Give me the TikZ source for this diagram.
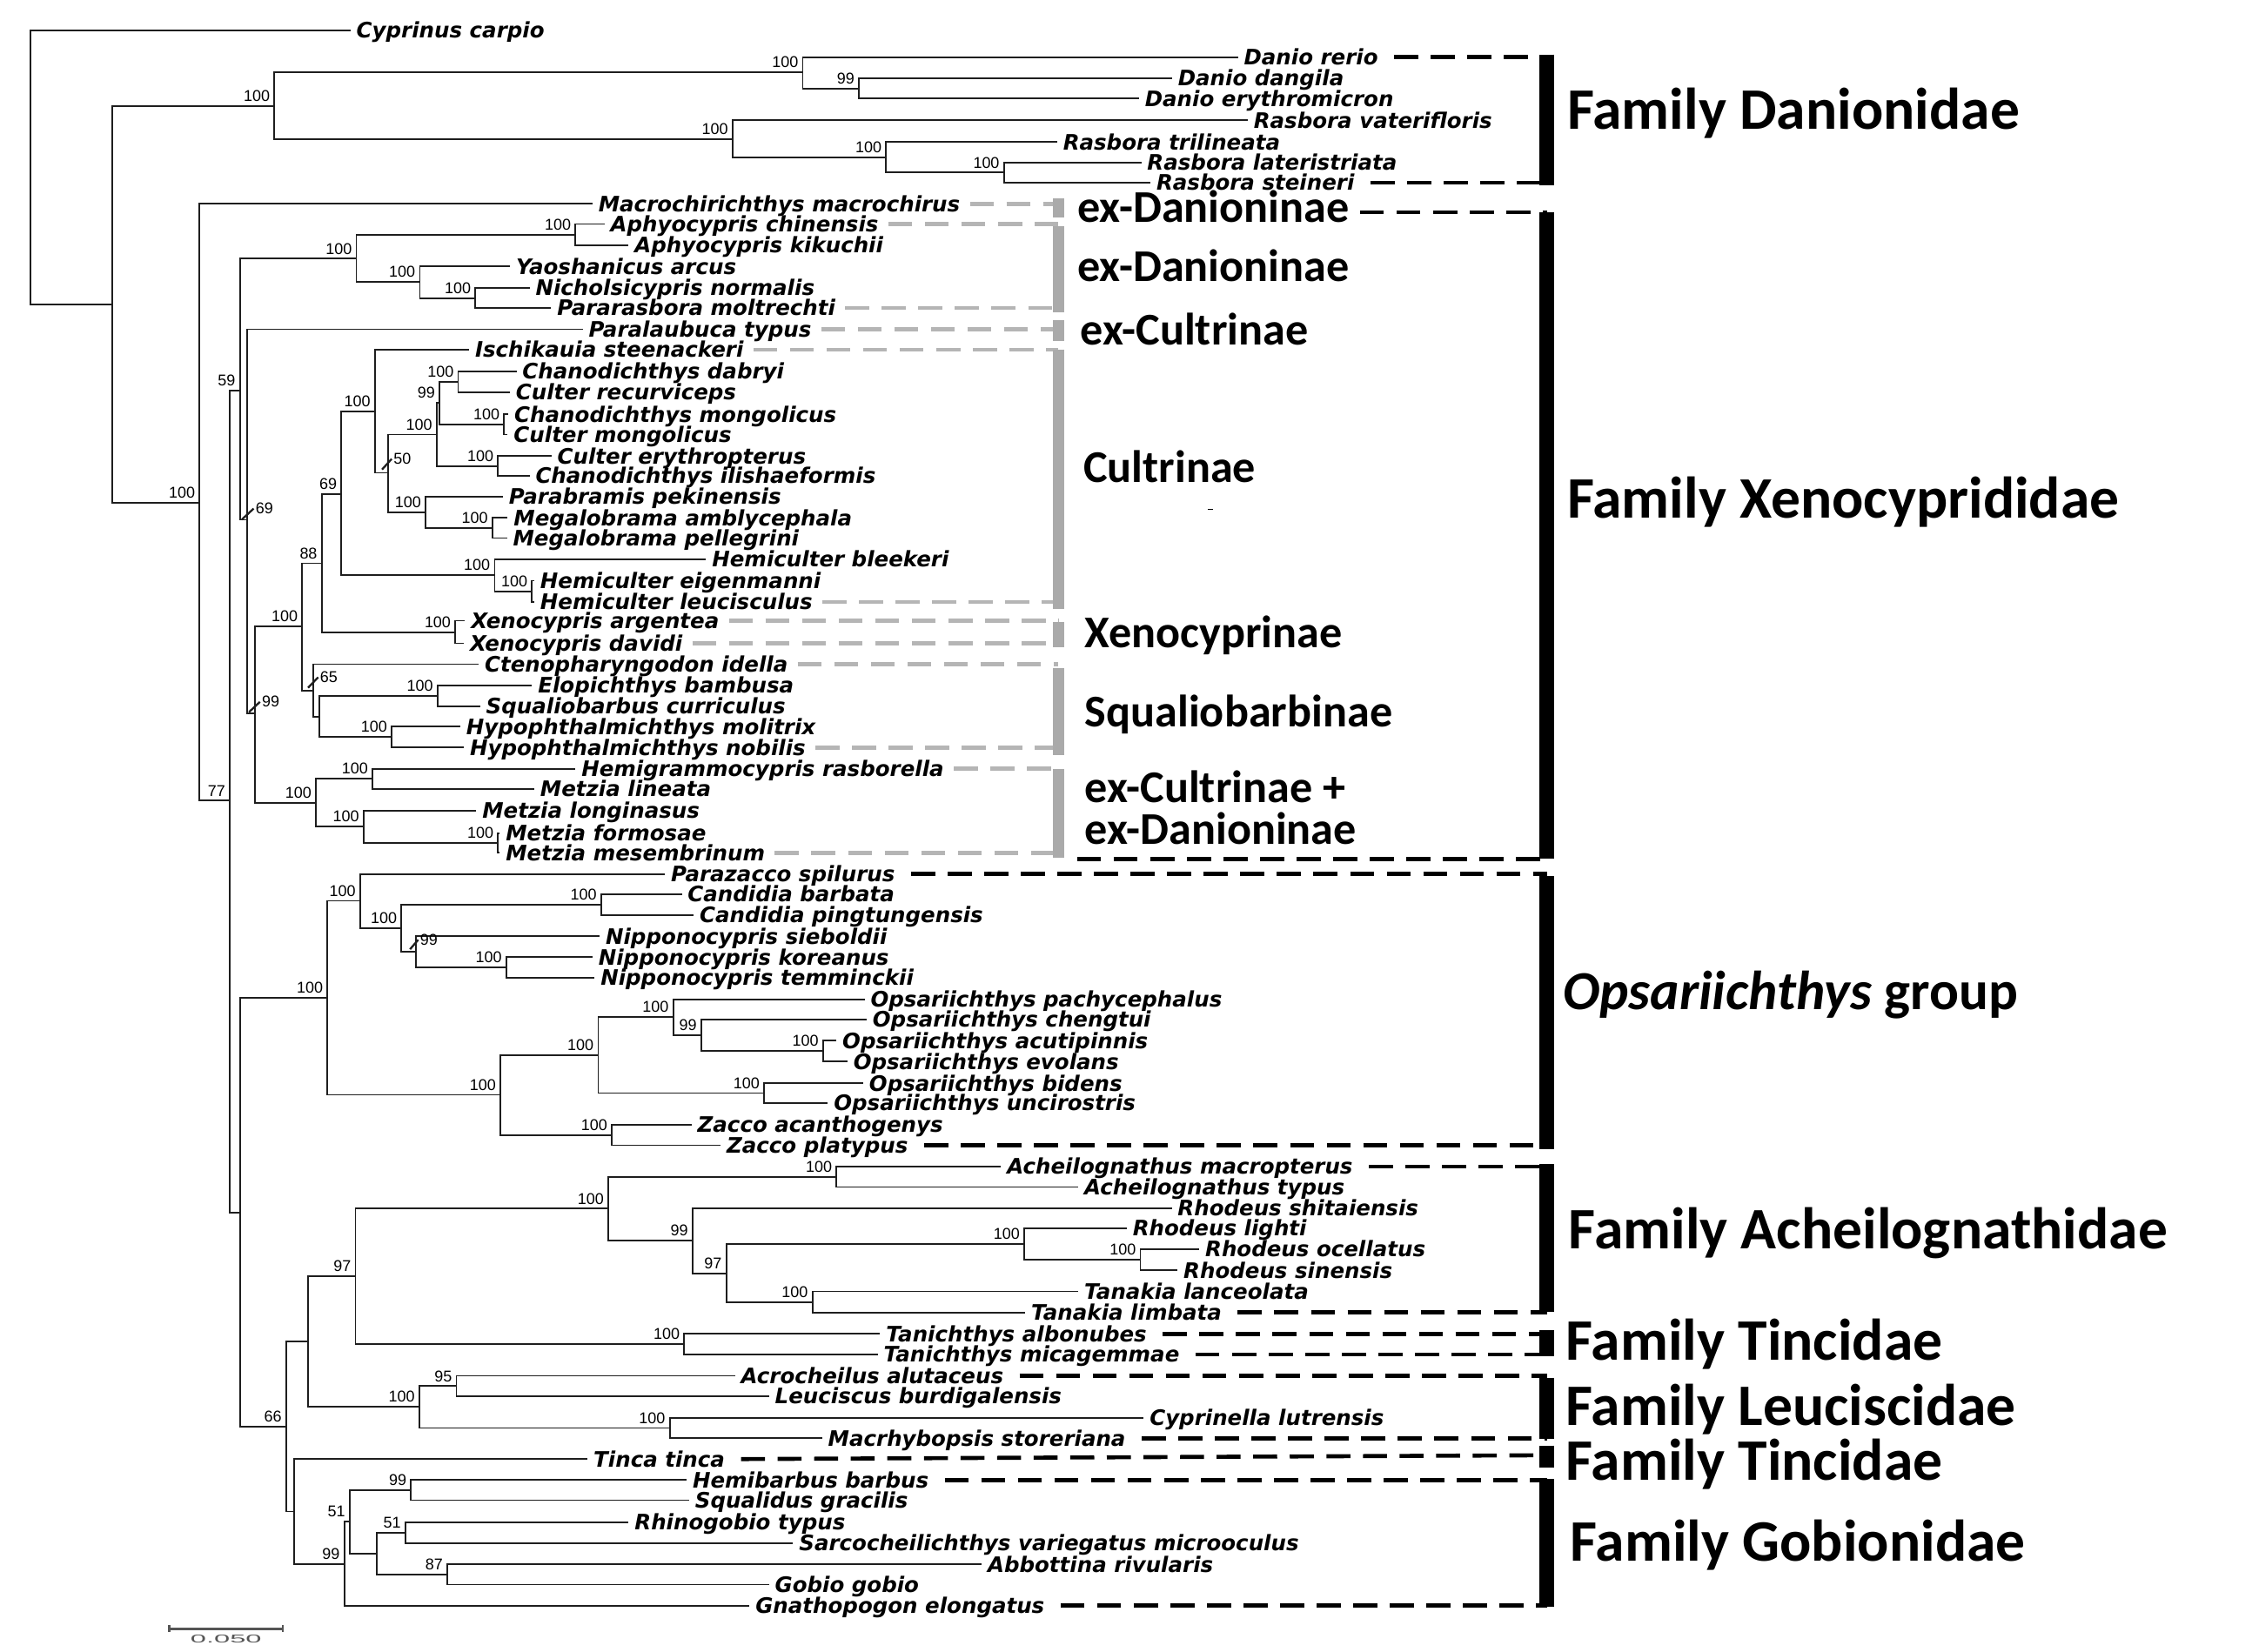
\documentclass[tikz,border=0pt]{standalone}
\usepackage{fontspec}
\usepackage{xcolor}
\usepackage{tikz}
\newfontfamily\spfam{DejaVu Sans}
\newfontfamily\bsfam{Liberation Sans}
\newfontfamily\grpfam{Carlito}
\definecolor{GBar}{HTML}{AAAAAA}
\definecolor{GDash}{HTML}{B5B5B5}
\definecolor{Ink}{HTML}{1E1E1E}
\definecolor{ScaleGray}{HTML}{555555}

\begin{document}
\begin{tikzpicture}[x=0.02cm,y=-0.02cm,
sp/.style={font=\spfam\bfseries\itshape\fontsize{8.45}{10}\selectfont,anchor=west,inner xsep=2.2pt,inner ysep=0pt,text height=6.1pt,text depth=0pt},
bs/.style={font=\bsfam\fontsize{6.2}{7}\selectfont,anchor=south east,inner sep=0pt,xshift=-1.6pt,yshift=1.6pt},
bsl/.style={font=\bsfam\fontsize{6.2}{7}\selectfont,anchor=west,inner sep=0.4pt},
br/.style={draw=Ink,line width=0.65pt},
slash/.style={draw=Ink,line width=0.8pt},
sub/.style={font=\grpfam\bfseries\fontsize{18}{20}\selectfont,anchor=base west,inner sep=0pt},
fam/.style={font=\grpfam\bfseries\fontsize{23.3}{26}\selectfont,anchor=base west,inner sep=0pt},
gdash/.style={draw=GDash,line width=1.6pt,dash pattern=on 9.5pt off 5pt,shorten <=1.5pt},
fdash/.style={draw=black,line width=1.6pt,dash pattern=on 9.5pt off 5pt,shorten <=4pt},
gbar/.style={draw=GBar,line width=4.5pt},
fbar/.style={draw=black,line width=5.7pt}]
\useasboundingbox (0,0) rectangle (1568,1150);
% internal nodes with support values
\coordinate (r) at (21,116.4);
\coordinate (n78) at (78,211.8);
\path (191,73.7) coordinate (nDan) node[bs] (bDan) {100};
\path (558.9,50.5) coordinate (nDr) node[bs] (bDr) {100};
\path (598,61.6) coordinate (nDd) node[bs] (bDd) {99};
\path (510,96.7) coordinate (nRa) node[bs] (bRa) {100};
\path (617,109.5) coordinate (nRt) node[bs] (bRt) {100};
\path (699,120.2) coordinate (nRl) node[bs] (bRl) {100};
\path (139,350) coordinate (nX) node[bs] (bX) {100};
\path (160,557.6) coordinate (n77) node[bs] (b77) {77};
\path (167,272) coordinate (n59) node[bs] (b59) {59};
\path (248.1,180.2) coordinate (nAph) node[bs] (bAph) {100};
\path (400.7,163.4) coordinate (nAp2) node[bs] (bAp2) {100};
\path (292.3,196.3) coordinate (nYao) node[bs] (bYao) {100};
\path (331,207.6) coordinate (nNic) node[bs] (bNic) {100};
\coordinate (n69) at (172,362);
\coordinate (n99) at (177.4,497);
\path (210.4,436.3) coordinate (nCX) node[bs] (bCX) {100};
\path (224,392.3) coordinate (n88) node[bs] (b88) {88};
\path (237.7,344) coordinate (nCu) node[bs] (bCu) {69};
\path (261,286.5) coordinate (nIsc) node[bs] (bIsc) {100};
\coordinate (n50) at (270,329.3);
\path (304,302.6) coordinate (nChC) node[bs] (bChC) {100};
\path (306,280.7) coordinate (nCh9) node[bs] (bCh9) {99};
\path (319,266) coordinate (nChA) node[bs] (bChA) {100};
\path (351,295.5) coordinate (nChB) node[bs] (bChB) {100};
\path (346.8,324.5) coordinate (nChE) node[bs] (bChE) {100};
\path (296.3,356.8) coordinate (nPar) node[bs] (bPar) {100};
\path (342.8,367.7) coordinate (nMeg) node[bs] (bMeg) {100};
\path (344.4,400.6) coordinate (nHem) node[bs] (bHem) {100};
\path (370.4,411.8) coordinate (nHe2) node[bs] (bHe2) {100};
\path (317,440.2) coordinate (nXen) node[bs] (bXen) {100};
\coordinate (n65) at (218.2,480.8);
\coordinate (nSq) at (222.2,499);
\path (304.7,484.5) coordinate (nElo) node[bs] (bElo) {100};
\path (272.7,513.3) coordinate (nHyp) node[bs] (bHyp) {100};
\path (220,559) coordinate (nMet) node[bs] (bMet) {100};
\path (259.3,542.4) coordinate (nHgm) node[bs] (bHgm) {100};
\path (253.2,575.5) coordinate (nMz) node[bs] (bMz) {100};
\path (346.8,587) coordinate (nMz2) node[bs] (bMz2) {100};
\coordinate (nB) at (167.3,844.4);
\path (228,695) coordinate (nOps) node[bs] (bOps) {100};
\path (250.8,627.4) coordinate (nPz) node[bs] (bPz) {100};
\path (279.5,646.5) coordinate (nCN) node[bs] (bCN) {100};
\path (418.5,630.1) coordinate (nCan) node[bs] (bCan) {100};
\coordinate (nNip) at (289.6,662.7);
\path (352.5,673.7) coordinate (nNi2) node[bs] (bNi2) {100};
\path (348.5,762.5) coordinate (nOp) node[bs] (bOp) {100};
\path (416.5,734.8) coordinate (nO1) node[bs] (bO1) {100};
\path (468.7,708.4) coordinate (nO2) node[bs] (bO2) {100};
\path (488.2,721) coordinate (nO3) node[bs] (bO3) {99};
\path (573,732) coordinate (nAcu) node[bs] (bAcu) {100};
\path (532,761.3) coordinate (nBid) node[bs] (bBid) {100};
\path (426,790.4) coordinate (nZac) node[bs] (bZac) {100};
\path (199.3,993.5) coordinate (n66) node[bs] (b66) {66};
\coordinate (nL) at (214.5,934.2);
\path (247.5,888.9) coordinate (n97) node[bs] (b97) {97};
\path (423.6,841.8) coordinate (nAch) node[bs] (bAch) {100};
\path (582.4,819.6) coordinate (nAc2) node[bs] (bAc2) {100};
\path (482.2,864) coordinate (nRs) node[bs] (bRs) {99};
\path (505.7,886.9) coordinate (nR97) node[bs] (bR97) {97};
\path (713.1,866.4) coordinate (nRh) node[bs] (bRh) {100};
\path (794,877.5) coordinate (nRh2) node[bs] (bRh2) {100};
\path (565.7,906.8) coordinate (nTk) node[bs] (bTk) {100};
\path (476.4,936.1) coordinate (nTan) node[bs] (bTan) {100};
\path (291.9,979.6) coordinate (nLeu) node[bs] (bLeu) {100};
\path (317.8,965.4) coordinate (n95) node[bs] (b95) {95};
\path (466.3,994.5) coordinate (nCyp) node[bs] (bCyp) {100};
\coordinate (nT) at (204.7,1052.7);
\path (239.7,1089.3) coordinate (nGob) node[bs] (bGob) {99};
\path (243.4,1059.8) coordinate (n51) node[bs] (b51) {51};
\path (286.2,1037.8) coordinate (nHb) node[bs] (bHb) {99};
\coordinate (nRg) at (262.6,1081.9);
\path (282.2,1067.4) coordinate (n51b) node[bs] (b51b) {51};
\path (311.4,1096.6) coordinate (n87) node[bs] (b87) {87};
% leaves
\node[sp] (lCyp) at (244,21) {Cyprinus carpio};
\node[sp] (lDre) at (861.9,39.8) {Danio rerio};
\node[sp] (lDda) at (816,54.5) {Danio dangila};
\node[sp] (lDer) at (793,68.7) {Danio erythromicron};
\node[sp] (lRva) at (868.7,83.8) {Rasbora vaterifloris};
\node[sp] (lRtr) at (736,99) {Rasbora trilineata};
\node[sp] (lRla) at (794.6,113.1) {Rasbora lateristriata};
\node[sp] (lRst) at (801,127.3) {Rasbora steineri};
\node[sp] (lMac) at (412.5,142) {Macrochirichthys macrochirus};
\node[sp] (lAch) at (420.9,156) {Aphyocypris chinensis};
\node[sp] (lAki) at (437.7,170.7) {Aphyocypris kikuchii};
\node[sp] (lYar) at (355.2,185.5) {Yaoshanicus arcus};
\node[sp] (lNno) at (368.7,200.6) {Nicholsicypris normalis};
\node[sp] (lPmo) at (383.8,214.5) {Pararasbora moltrechti};
\node[sp] (lPty) at (405.7,229.3) {Paralaubuca typus};
\node[sp] (lIst) at (326.6,243.6) {Ischikauia steenackeri};
\node[sp] (lCda) at (359.6,258.6) {Chanodichthys dabryi};
\node[sp] (lCre) at (355,273.3) {Culter recurviceps};
\node[sp] (lCmo) at (354,288.5) {Chanodichthys mongolicus};
\node[sp] (lCum) at (353.5,302.6) {Culter mongolicus};
\node[sp] (lCer) at (383.9,317.6) {Culter erythropterus};
\node[sp] (lCil) at (368.7,331.3) {Chanodichthys ilishaeformis};
\node[sp] (lPpe) at (350.2,345.9) {Parabramis pekinensis};
\node[sp] (lMam) at (353.5,360.6) {Megalobrama amblycephala};
\node[sp] (lMpe) at (353,374.7) {Megalobrama pellegrini};
\node[sp] (lHbl) at (491.6,389.5) {Hemiculter bleekeri};
\node[sp] (lHei) at (372,404.4) {Hemiculter eigenmanni};
\node[sp] (lHle) at (372,419.2) {Hemiculter leucisculus};
\node[sp] (lXar) at (323.8,432.3) {Xenocypris argentea};
\node[sp] (lXda) at (323,448) {Xenocypris davidi};
\node[sp] (lCid) at (333.3,462.6) {Ctenopharyngodon idella};
\node[sp] (lEba) at (370.4,477.2) {Elopichthys bambusa};
\node[sp] (lScu) at (334.3,491.9) {Squaliobarbus curriculus};
\node[sp] (lHmo) at (320.5,506) {Hypophthalmichthys molitrix};
\node[sp] (lHno) at (323,520.6) {Hypophthalmichthys nobilis};
\node[sp] (lHra) at (400.7,535.4) {Hemigrammocypris rasborella};
\node[sp] (lMli) at (372,549.5) {Metzia lineata};
\node[sp] (lMlo) at (331.6,564.6) {Metzia longinasus};
\node[sp] (lMfo) at (348,580.2) {Metzia formosae};
\node[sp] (lMme) at (348,593.9) {Metzia mesembrinum};
\node[sp] (lPsp) at (463,608.7) {Parazacco spilurus};
\node[sp] (lCba) at (474.7,622.8) {Candidia barbata};
\node[sp] (lCpi) at (483,637.4) {Candidia pingtungensis};
\node[sp] (lNsi) at (417.5,652.1) {Nipponocypris sieboldii};
\node[sp] (lNko) at (412.5,666.7) {Nipponocypris koreanus};
\node[sp] (lNte) at (414,680.8) {Nipponocypris temminckii};
\node[sp] (lOpa) at (602,696) {Opsariichthys pachycephalus};
\node[sp] (lOch) at (603.4,710.1) {Opsariichthys chengtui};
\node[sp] (lOac) at (582.4,724.8) {Opsariichthys acutipinnis};
\node[sp] (lOev) at (590,739.4) {Opsariichthys evolans};
\node[sp] (lObi) at (601,754.5) {Opsariichthys bidens};
\node[sp] (lOun) at (576.4,768.1) {Opsariichthys uncirostris};
\node[sp] (lZac) at (481.5,783.2) {Zacco acanthogenys};
\node[sp] (lZpl) at (501.7,797.6) {Zacco platypus};
\node[sp] (lAma) at (697,812.5) {Acheilognathus macropterus};
\node[sp] (lAty) at (750.8,826.7) {Acheilognathus typus};
\node[sp] (lRsh) at (815.8,841.4) {Rhodeus shitaiensis};
\node[sp] (lRli) at (784.5,855.5) {Rhodeus lighti};
\node[sp] (lRoc) at (835,870.1) {Rhodeus ocellatus};
\node[sp] (lRsi) at (819.9,884.8) {Rhodeus sinensis};
\node[sp] (lTla) at (750.8,899.4) {Tanakia lanceolata};
\node[sp] (lTli) at (713.8,914.1) {Tanakia limbata};
\node[sp] (lTal) at (612.8,928.9) {Tanichthys albonubes};
\node[sp] (lTmi) at (611.1,943.4) {Tanichthys micagemmae};
\node[sp] (lAal) at (511.8,958.2) {Acrocheilus alutaceus};
\node[sp] (lLbu) at (535.4,972.5) {Leuciscus burdigalensis};
\node[sp] (lClu) at (796.3,987.3) {Cyprinella lutrensis};
\node[sp] (lMst) at (572.4,1001.6) {Macrhybopsis storeriana};
\node[sp] (lTti) at (409.1,1016.2) {Tinca tinca};
\node[sp] (lHba) at (478.1,1030.7) {Hemibarbus barbus};
\node[sp] (lSgr) at (479.8,1044.8) {Squalidus gracilis};
\node[sp] (lRty) at (437.7,1060) {Rhinogobio typus};
\node[sp] (lSvm) at (552.2,1074.7) {Sarcocheilichthys variegatus microoculus};
\node[sp] (lAri) at (683.5,1089.5) {Abbottina rivularis};
\node[sp] (lGgo) at (535.4,1103.6) {Gobio gobio};
\node[sp] (lGel) at (521.9,1118.2) {Gnathopogon elongatus};
% branches
\draw[br] (r) |- (lCyp.west) (r) |- (n78);
\draw[br] (n78) |- (nDan) (n78) |- (nX);
\draw[br] (nDan) |- (nDr) (nDan) |- (nRa);
\draw[br] (nDr) |- (lDre.west) (nDr) |- (nDd);
\draw[br] (nDd) |- (lDda.west) (nDd) |- (lDer.west);
\draw[br] (nRa) |- (lRva.west) (nRa) |- (nRt);
\draw[br] (nRt) |- (lRtr.west) (nRt) |- (nRl);
\draw[br] (nRl) |- (lRla.west) (nRl) |- (lRst.west);
\draw[br] (nX) |- (lMac.west) (nX) |- (n77);
\draw[br] (n77) |- (n59) (n77) |- (nB);
\draw[br] (n59) |- (nAph) (n59) |- (n69);
\draw[br] (nAph) |- (nAp2) (nAph) |- (nYao);
\draw[br] (nAp2) |- (lAch.west) (nAp2) |- (lAki.west);
\draw[br] (nYao) |- (lYar.west) (nYao) |- (nNic);
\draw[br] (nNic) |- (lNno.west) (nNic) |- (lPmo.west);
\draw[br] (n69) |- (lPty.west) (n69) |- (n99);
\draw[br] (n99) |- (nCX) (n99) |- (nMet);
\draw[br] (nCX) |- (n88) (nCX) |- (n65);
\draw[br] (n88) |- (nCu) (n88) |- (nXen);
\draw[br] (nCu) |- (nIsc) (nCu) |- (nHem);
\draw[br] (nIsc) |- (lIst.west) (nIsc) |- (n50);
\draw[br] (n50) |- (nChC) (n50) |- (nPar);
\draw[br] (nChC) |- (nCh9) (nChC) |- (nChE);
\draw[br] (nCh9) |- (nChA) (nCh9) |- (nChB);
\draw[br] (nChA) |- (lCda.west) (nChA) |- (lCre.west);
\draw[br] (nChB) |- (lCmo.west) (nChB) |- (lCum.west);
\draw[br] (nChE) |- (lCer.west) (nChE) |- (lCil.west);
\draw[br] (nPar) |- (lPpe.west) (nPar) |- (nMeg);
\draw[br] (nMeg) |- (lMam.west) (nMeg) |- (lMpe.west);
\draw[br] (nHem) |- (lHbl.west) (nHem) |- (nHe2);
\draw[br] (nHe2) |- (lHei.west) (nHe2) |- (lHle.west);
\draw[br] (nXen) |- (lXar.west) (nXen) |- (lXda.west);
\draw[br] (n65) |- (lCid.west) (n65) |- (nSq);
\draw[br] (nSq) |- (nElo) (nSq) |- (nHyp);
\draw[br] (nElo) |- (lEba.west) (nElo) |- (lScu.west);
\draw[br] (nHyp) |- (lHmo.west) (nHyp) |- (lHno.west);
\draw[br] (nMet) |- (nHgm) (nMet) |- (nMz);
\draw[br] (nHgm) |- (lHra.west) (nHgm) |- (lMli.west);
\draw[br] (nMz) |- (lMlo.west) (nMz) |- (nMz2);
\draw[br] (nMz2) |- (lMfo.west) (nMz2) |- (lMme.west);
\draw[br] (nB) |- (nOps) (nB) |- (n66);
\draw[br] (nOps) |- (nPz) (nOps) |- (nOp);
\draw[br] (nPz) |- (lPsp.west) (nPz) |- (nCN);
\draw[br] (nCN) |- (nCan) (nCN) |- (nNip);
\draw[br] (nCan) |- (lCba.west) (nCan) |- (lCpi.west);
\draw[br] (nNip) |- (lNsi.west) (nNip) |- (nNi2);
\draw[br] (nNi2) |- (lNko.west) (nNi2) |- (lNte.west);
\draw[br] (nOp) |- (nO1) (nOp) |- (nZac);
\draw[br] (nO1) |- (nO2) (nO1) |- (nBid);
\draw[br] (nO2) |- (lOpa.west) (nO2) |- (nO3);
\draw[br] (nO3) |- (lOch.west) (nO3) |- (nAcu);
\draw[br] (nAcu) |- (lOac.west) (nAcu) |- (lOev.west);
\draw[br] (nBid) |- (lObi.west) (nBid) |- (lOun.west);
\draw[br] (nZac) |- (lZac.west) (nZac) |- (lZpl.west);
\draw[br] (n66) |- (nL) (n66) |- (nT);
\draw[br] (nL) |- (n97) (nL) |- (nLeu);
\draw[br] (n97) |- (nAch) (n97) |- (nTan);
\draw[br] (nAch) |- (nAc2) (nAch) |- (nRs);
\draw[br] (nAc2) |- (lAma.west) (nAc2) |- (lAty.west);
\draw[br] (nRs) |- (lRsh.west) (nRs) |- (nR97);
\draw[br] (nR97) |- (nRh) (nR97) |- (nTk);
\draw[br] (nRh) |- (lRli.west) (nRh) |- (nRh2);
\draw[br] (nRh2) |- (lRoc.west) (nRh2) |- (lRsi.west);
\draw[br] (nTk) |- (lTla.west) (nTk) |- (lTli.west);
\draw[br] (nTan) |- (lTal.west) (nTan) |- (lTmi.west);
\draw[br] (nLeu) |- (n95) (nLeu) |- (nCyp);
\draw[br] (n95) |- (lAal.west) (n95) |- (lLbu.west);
\draw[br] (nCyp) |- (lClu.west) (nCyp) |- (lMst.west);
\draw[br] (nT) |- (lTti.west) (nT) |- (nGob);
\draw[br] (nGob) |- (n51) (nGob) |- (lGel.west);
\draw[br] (n51) |- (nHb) (n51) |- (nRg);
\draw[br] (nHb) |- (lHba.west) (nHb) |- (lSgr.west);
\draw[br] (nRg) |- (n51b) (nRg) |- (n87);
\draw[br] (n51b) |- (lRty.west) (n51b) |- (lSvm.west);
\draw[br] (n87) |- (lAri.west) (n87) |- (lGgo.west);
% support values on ticks
\draw[slash] (n69) ++(-3.6,-0.2) -- ++(8.2,-7.6) node[bsl] (b69) {69};
\draw[slash] (n99) ++(-4,-1.1) -- ++(7.6,-7.1) node[bsl] (b99) {99};
\draw[slash] (n65) ++(-3.7,-1.8) -- ++(7,-7.3) node[bsl] (b65) {65};
\draw[slash] (n50) ++(-4,-2.3) -- ++(6.7,-7.4) node[bsl] (b50) {50};
\draw[slash] (nNip) ++(-4.1,-1.6) -- ++(5.7,-6.6) node[bsl] (bNip) {99};
% subfamily brackets
\coordinate (g1t) at (737,138.4); \coordinate (g1b) at (737,151.5);
\coordinate (g2t) at (737,157.6); \coordinate (g2b) at (737,217.8);
\coordinate (g3t) at (737,223.2); \coordinate (g3b) at (737,237.4);
\coordinate (g4t) at (737,243.4); \coordinate (g4b) at (737,424.2);
\coordinate (g5t) at (737,432.9); \coordinate (g5b) at (737,450.5);
\coordinate (g6t) at (737,465); \coordinate (g6b) at (737,525.7);
\coordinate (g7t) at (737,535.8); \coordinate (g7b) at (737,597.6);
\draw[gdash,yshift=-0.9pt] (lMac.east) -- (lMac.east -| g1t);
\draw[gdash,yshift=-0.9pt] (lAch.east) -- (lAch.east -| g2t);
\draw[gdash,yshift=-0.9pt] (lPmo.east) -- (lPmo.east -| g2t);
\draw[gdash,yshift=-0.9pt] (lPty.east) -- (lPty.east -| g3t);
\draw[gdash,yshift=-0.9pt] (lIst.east) -- (lIst.east -| g4t);
\draw[gdash,yshift=-0.9pt] (lHle.east) -- (lHle.east -| g4t);
\draw[gdash,yshift=-0.9pt] (lXar.east) -- (lXar.east -| g5t);
\draw[gdash,yshift=-0.9pt] (lXda.east) -- (lXda.east -| g5t);
\draw[gdash,yshift=-0.9pt] (lCid.east) -- (lCid.east -| g6t);
\draw[gdash,yshift=-0.9pt] (lHno.east) -- (lHno.east -| g6t);
\draw[gdash,yshift=-0.9pt] (lHra.east) -- (lHra.east -| g7t);
\draw[gdash,yshift=-0.9pt] (lMme.east) -- (lMme.east -| g7t);
\draw[gbar] (g1t) -- (g1b);
\draw[gbar] (g2t) -- (g2b);
\draw[gbar] (g3t) -- (g3b);
\draw[gbar] (g4t) -- (g4b);
\draw[gbar] (g5t) -- (g5b);
\draw[gbar] (g6t) -- (g6b);
\draw[gbar] (g7t) -- (g7b);
\node[sub] (sDan1) at (750,155) {ex-Danioninae};
\node[sub] (sDan2) at (750,196) {ex-Danioninae};
\node[sub] (sCul1) at (752,240) {ex-Cultrinae};
\node[sub] (sCul) at (754,336) {Cultrinae};
\node[sub] (sXen) at (755,451) {Xenocyprinae};
\node[sub] (sSqu) at (755,506) {Squaliobarbinae};
\node[sub] (sMix1) at (755,559) {ex-Cultrinae +};
\node[sub] (sMix2) at (755,588) {ex-Danioninae};
\draw[line width=0.4pt] (841,354.5) -- (844.5,354.5);
% family brackets
\coordinate (fDt) at (1077,37.9); \coordinate (fDb) at (1077,129);
\coordinate (fXt) at (1077,147.8); \coordinate (fXb) at (1077,598.1);
\coordinate (fOt) at (1077,610); \coordinate (fOb) at (1077,800.4);
\coordinate (fAt) at (1077,810.9); \coordinate (fAb) at (1077,913.5);
\coordinate (fTt) at (1077,926.2); \coordinate (fTb) at (1077,944.3);
\coordinate (fLt) at (1077,959.5); \coordinate (fLb) at (1077,1002.3);
\coordinate (fT2t) at (1077,1006.7); \coordinate (fT2m) at (1077,1013.5); \coordinate (fT2b) at (1077,1022.2);
\coordinate (fGt) at (1077,1030.2); \coordinate (fGb) at (1077,1119);
\coordinate (eX) at (750,598.1);
\draw[fdash] (lDre.east) -- (lDre.east -| fDt);
\draw[fdash] (lRst.east) -- (lRst.east -| fDt);
\draw[fdash] (sDan1.east |- fXt) -- (fXt);
\draw[fdash,shorten <=0pt] (eX) -- (fXb);
\draw[fdash] (lPsp.east) -- (lPsp.east -| fOt);
\draw[fdash] (lZpl.east) -- (lZpl.east -| fOt);
\draw[fdash] (lAma.east) -- (lAma.east -| fAt);
\draw[fdash] (lTli.east) -- (lTli.east -| fAt);
\draw[fdash] (lTal.east) -- (lTal.east -| fTt);
\draw[fdash] (lTmi.east) -- (lTmi.east -| fTt);
\draw[fdash] (lAal.east) -- (lAal.east -| fLt);
\draw[fdash] (lMst.east) -- (lMst.east -| fLt);
\draw[fdash] (lTti.east) -- (fT2m);
\draw[fdash] (lHba.east) -- (lHba.east -| fGt);
\draw[fdash] (lGel.east) -- (lGel.east -| fGt);
\draw[fbar] (fDt) -- (fDb);
\draw[fbar] (fXt) -- (fXb);
\draw[fbar] (fOt) -- (fOb);
\draw[fbar] (fAt) -- (fAb);
\draw[fbar] (fTt) -- (fTb);
\draw[fbar] (fLt) -- (fLb);
\draw[fbar] (fT2t) -- (fT2b);
\draw[fbar] (fGt) -- (fGb);
\node[fam] (famDan) at (1091,90) {Family Danionidae};
\node[fam] (famXen) at (1091,361) {Family Xenocyprididae};
\node[fam,font=\grpfam\bfseries\fontsize{21.8}{26}\selectfont] (famOps) at (1088,703) {\textit{Opsariichthys} group};
\node[fam] (famAch) at (1092,870) {Family Acheilognathidae};
\node[fam] (famTin) at (1090,947) {Family Tincidae};
\node[fam] (famLeu) at (1090,993) {Family Leuciscidae};
\node[fam] (famTi2) at (1090,1031) {Family Tincidae};
\node[fam] (famGob) at (1093,1087) {Family Gobionidae};
% scale bar
\coordinate (sbL) at (117.8,1134.3);
\coordinate (sbR) at (197,1134.3);
\draw[ScaleGray,line width=0.9pt] (sbL) -- (sbR);
\draw[ScaleGray,line width=0.9pt] (sbL) ++(0,-2.6) -- ++(0,5.2);
\draw[ScaleGray,line width=0.9pt] (sbR) ++(0,-2.6) -- ++(0,5.2);
\node[font=\bsfam\fontsize{4.5}{5}\selectfont,text=ScaleGray,xscale=2.5,inner sep=0pt] (sbT) at (157.4,1141.6) {0.050};
\end{tikzpicture}
\end{document}
